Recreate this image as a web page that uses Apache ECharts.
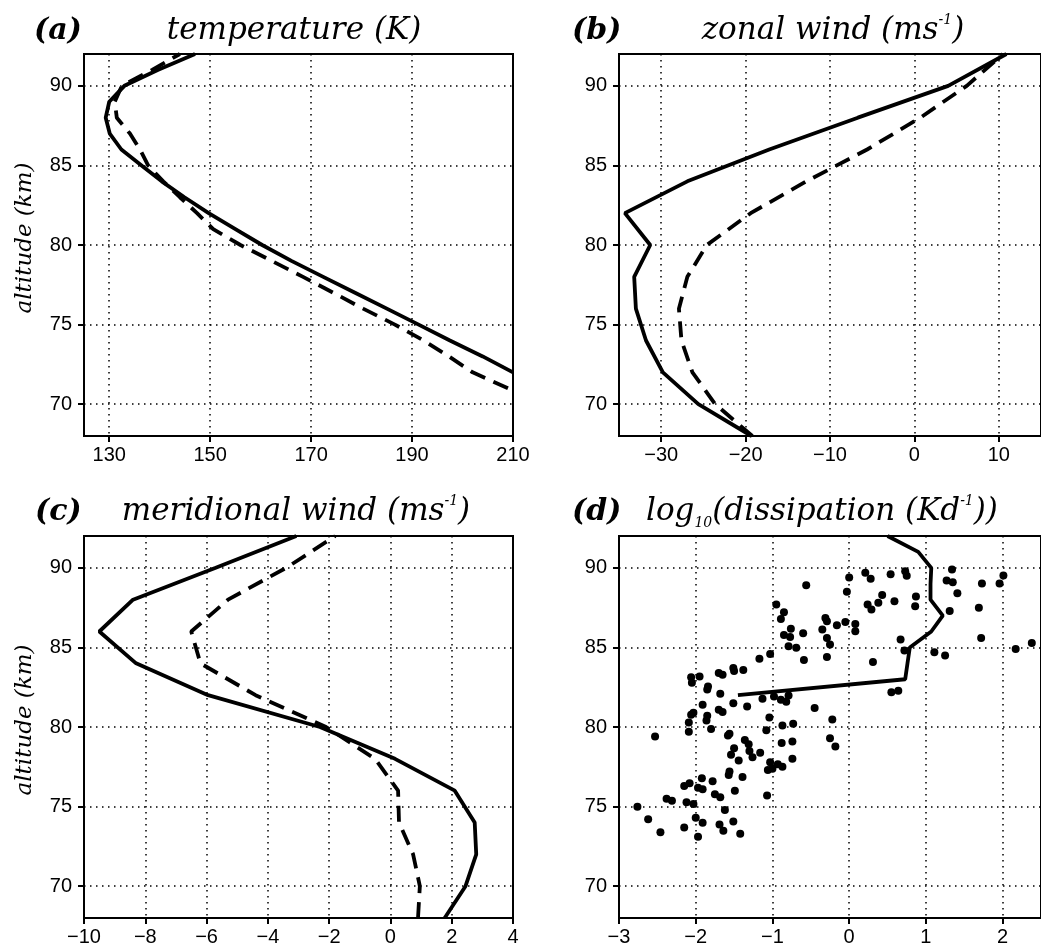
<!DOCTYPE html>
<html>
<head>
<meta charset="utf-8">
<script src="https://cdn.jsdelivr.net/npm/echarts@6/dist/echarts.min.js"></script>
<style>
  html, body { margin: 0; padding: 0; background: #fff; }
  #chart { width: 1041px; height: 947px; }
</style>
</head>
<body>
<div id="chart"></div>
<script>
// altitude ticks shared by all panels
const altTicks = [70, 75, 80, 85, 90];

// (a) temperature (K)
const tempTicks = [130, 150, 170, 190, 210];
const altTempSolid = [72, 73, 74, 75, 76, 77, 78, 79, 80, 81, 82, 83, 84, 85, 86, 87, 88, 89, 90, 91, 92];
const tempSolid = [210, 204, 197.5, 191.3, 185, 178.7, 172.4, 166.1, 160.3, 155, 149.7, 144.9, 140.4, 136.4, 132.4, 130.1, 129.3, 130, 133, 139.6, 147];
const altTempDashed = [71, 72, 73, 74, 75, 76, 77, 78, 79, 80, 81, 82, 83, 84, 85, 86, 87, 88, 89, 90, 91, 92];
const tempDashed = [209, 202, 197.3, 192.3, 186.6, 180.3, 174.4, 168.4, 162.2, 156, 150.6, 147.4, 144, 140.7, 137.7, 136.1, 134.1, 131.5, 131.1, 132.5, 138.5, 144];

// (b) zonal wind
const uTicks = [-30, -20, -10, 0, 10];
const altWind = [68, 70, 72, 74, 76, 78, 80, 82, 84, 86, 88, 90, 92];
const uSolid = [-19.3, -25.6, -29.8, -31.8, -33.0, -33.2, -31.3, -34.3, -26.9, -17.2, -6.7, 4.0, 10.9];
const uDashed = [-19.2, -23.6, -26.3, -27.6, -27.9, -26.9, -24.6, -19.4, -12.8, -5.6, 0.7, 6.2, 10.5];

// (c) meridional wind
const vTicks = [-10, -8, -6, -4, -2, 0, 2, 4];
const vSolid = [1.77, 2.45, 2.8, 2.75, 2.1, 0.15, -2.3, -5.95, -8.3, -9.5, -8.4, -5.7, -3.07];
const vDashed = [0.9, 0.96, 0.74, 0.28, 0.25, -0.5, -2.1, -4.4, -6.2, -6.5, -5.3, -3.4, -1.8];

// (d) log10 dissipation
const dTicks = [-3, -2, -1, 0, 1, 2];
const altDiss = [82, 83, 84, 85, 86, 87, 88, 89, 90, 91, 92];
const dissLine = [-1.45, 0.73, 0.76, 0.79, 1.07, 1.22, 1.06, 1.06, 1.07, 0.9, 0.5];
const obsX = [1.34, 2.01, 0.21, 0.54, 0.73, 0.75, 0.0, 0.28, 1.27, 1.35, 1.73, 1.96, -0.56, -0.03, 1.41, 0.43, 0.87, 0.59, 0.38, 0.24,
  0.86, 0.29, 1.69, -0.95, -0.85, 1.31, -0.89, -0.31, -0.29, -0.05, 0.08, -0.16, -0.76, -0.35, 0.08, -0.6, -0.85, -0.77, -0.29, 0.67,
  1.72, -0.25, -0.79, -0.69, 0.72, 2.17, 2.38, 1.11, 1.25, -1.03, -1.17, -0.59, -0.29, 0.31, -1.51, -1.5, -1.38, -1.7, -1.65, -1.95,
  -2.06, -2.05, -1.84, -1.85, -1.68, 0.55, 0.64, -1.13, -0.98, -0.79, -0.89, -0.82, -1.51, -1.33, -1.91, -0.45, -1.7, -1.65, -2.03, -2.06,
  -1.85, -1.86, -2.09, -1.04, -0.22, -0.73, -0.87, -1.8, -2.09, -1.08, -2.53, -1.56, -1.58, -1.36, -1.31, -0.25, -0.74, -0.88, -1.5, -1.3,
  -1.54, -1.16, -1.26, -1.44, -0.74, -1.03, -0.93, -0.87, -1.0, -1.06, -1.56, -1.57, -1.39, -0.18, -1.92, -1.78, -2.08, -2.15, -1.97, -1.91,
  -1.49, -1.75, -1.68, -1.07, -2.38, -2.31, -2.12, -2.03, -2.76, -1.62, -2.0, -2.62, -1.51, -1.91, -1.69, -2.15, -1.64, -2.46, -1.42, -1.97];
const obsAlt = [89.9, 89.52, 89.69, 89.6, 89.79, 89.5, 89.39, 89.31, 89.2, 89.1, 89.01, 89.01, 88.91, 88.49, 88.41, 88.3, 88.2, 87.9, 87.8, 87.69,
  87.59, 87.38, 87.5, 87.69, 87.21, 87.29, 86.79, 86.85, 86.64, 86.6, 86.47, 86.39, 86.18, 86.12, 86.01, 85.89, 85.78, 85.66, 85.59, 85.49,
  85.59, 85.19, 85.07, 84.98, 84.8, 84.9, 85.28, 84.69, 84.5, 84.59, 84.29, 84.21, 84.4, 84.08, 83.7, 83.52, 83.58, 83.39, 83.28, 83.18,
  83.12, 82.78, 82.55, 82.36, 82.09, 82.19, 82.28, 81.77, 81.92, 81.98, 81.71, 81.58, 81.5, 81.29, 81.4, 81.19, 81.08, 80.95, 80.89, 80.77,
  80.7, 80.41, 80.28, 80.6, 80.47, 80.2, 80.09, 79.88, 79.7, 79.8, 79.4, 79.57, 79.46, 79.19, 78.92, 79.3, 79.09, 79.0, 78.67, 78.5,
  78.25, 78.39, 78.1, 77.89, 78.0, 77.79, 77.66, 77.51, 77.37, 77.3, 77.2, 76.99, 76.86, 78.77, 76.78, 76.59, 76.46, 76.3, 76.19, 76.09,
  76.0, 75.77, 75.58, 75.69, 75.5, 75.37, 75.27, 75.16, 74.99, 74.78, 74.3, 74.2, 74.07, 73.99, 73.88, 73.69, 73.48, 73.38, 73.3, 73.11];

const pairs = (xs, ys) => xs.map((x, i) => [x, ys[i]]);
const minus = v => String(v).replace('-', '\u2212');

const tickFont = 'Liberation Sans';
const serif = 'DejaVu Serif';

function grid(left, top) {
  return { left: left, top: top, width: 429, height: 382, show: true, borderColor: '#000', borderWidth: 2, containLabel: false };
}

function xAxis(gi, min, max, ticks) {
  return {
    type: 'value', gridIndex: gi, min: min, max: max,
    axisLine: { show: true, onZero: false, lineStyle: { color: '#000', width: 2 } },
    axisTick: { show: true, length: 6, customValues: ticks, lineStyle: { color: '#000', width: 2 } },
    axisLabel: { customValues: ticks, margin: 9, color: '#000', fontFamily: tickFont, fontSize: 20, formatter: minus },
    splitLine: { show: true, lineStyle: { color: '#000', width: 1.5, type: [1.5, 4.5] } }
  };
}

function yAxis(gi) {
  return {
    type: 'value', gridIndex: gi, min: 68, max: 92,
    axisLine: { show: true, onZero: false, lineStyle: { color: '#000', width: 2 } },
    axisTick: { show: true, length: 6, customValues: altTicks, lineStyle: { color: '#000', width: 2 } },
    axisLabel: { customValues: altTicks, margin: 12, color: '#000', fontFamily: tickFont, fontSize: 20 },
    splitLine: { show: true, lineStyle: { color: '#000', width: 1.5, type: [1.5, 4.5] } }
  };
}

function line(gi, data, dashed) {
  return {
    type: 'line', xAxisIndex: gi, yAxisIndex: gi, data: data, symbol: 'none', clip: true,
    lineStyle: { color: '#000', width: 3.8, type: dashed ? [16, 9] : 'solid' }
  };
}

const titleRich = {
  t: { fontFamily: serif, fontStyle: 'italic', fontSize: 31, lineHeight: 36, fill: '#000' },
  s: { fontFamily: serif, fontStyle: 'italic', fontSize: 14, lineHeight: 16, verticalAlign: 'top', fill: '#000' },
  b: { fontFamily: serif, fontStyle: 'italic', fontSize: 14, lineHeight: 14, verticalAlign: 'bottom', fill: '#000' }
};

function label(x, y, text) {
  return { type: 'text', x: x, y: y, style: { text: text, font: 'italic bold 30px "DejaVu Serif"', fill: '#000', verticalAlign: 'middle' } };
}
function title(x, y, text) {
  return { type: 'text', x: x, y: y, style: { text: text, rich: titleRich, align: 'center', verticalAlign: 'middle' } };
}
function yName(x, y) {
  return { type: 'text', x: x, y: y, rotation: Math.PI / 2,
    style: { text: 'altitude (km)', font: 'italic 23px "DejaVu Serif"', fill: '#000', align: 'center', verticalAlign: 'middle' } };
}

const chart = echarts.init(document.getElementById('chart'));
chart.setOption({
  backgroundColor: '#fff',
  animation: false,
  grid: [grid(84, 54), grid(619, 54), grid(84, 536), grid(619, 536)],
  xAxis: [
    xAxis(0, 125, 210, tempTicks),
    xAxis(1, -35, 15, uTicks),
    xAxis(2, -10, 4, vTicks),
    xAxis(3, -3, 2.5, dTicks)
  ],
  yAxis: [yAxis(0), yAxis(1), yAxis(2), yAxis(3)],
  graphic: [
    label(34, 31, '(a)'),
    title(294, 31, '{t|temperature (K)}'),
    label(572, 31, '(b)'),
    title(833, 31, '{t|zonal wind (ms}{s|-1}{t|)}'),
    label(35, 512, '(c)'),
    title(296, 512, '{t|meridional wind (ms}{s|-1}{t|)}'),
    label(572, 512, '(d)'),
    title(822, 512, '{t|log}{b|10}{t|(dissipation (Kd}{s|-1}{t|))}'),
    yName(25, 238),
    yName(25, 720)
  ],
  series: [
    line(0, pairs(tempSolid, altTempSolid), false),
    line(0, pairs(tempDashed, altTempDashed), true),
    line(1, pairs(uSolid, altWind), false),
    line(1, pairs(uDashed, altWind), true),
    line(2, pairs(vSolid, altWind), false),
    line(2, pairs(vDashed, altWind), true),
    {
      type: 'scatter', xAxisIndex: 3, yAxisIndex: 3, data: pairs(obsX, obsAlt),
      symbolSize: 8, itemStyle: { color: '#000', opacity: 1 }
    },
    line(3, pairs(dissLine, altDiss), false)
  ]
});
</script>
</body>
</html>
